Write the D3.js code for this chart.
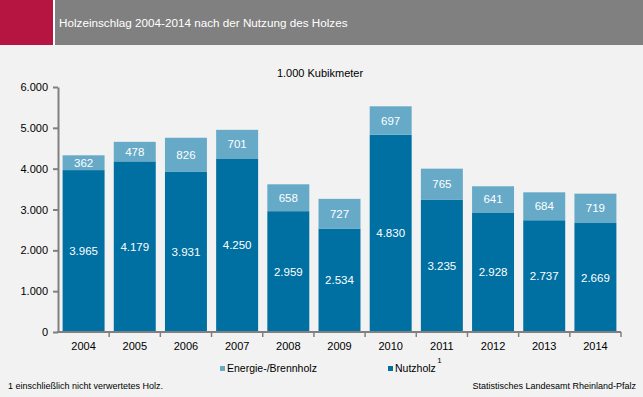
<!DOCTYPE html>
<html>
<head>
<meta charset="utf-8">
<script src="https://cdn.jsdelivr.net/npm/d3@7"></script>
<style>
  body { margin: 0; background: #f2f2f2; }
  svg { display: block; font-family: "Liberation Sans", Arial, sans-serif; }
</style>
</head>
<body>
<svg width="643" height="397"></svg>
<script>
const years = ["2004", "2005", "2006", "2007", "2008", "2009", "2010", "2011", "2012", "2013", "2014"];
const nutzholz = [3965, 4179, 3931, 4250, 2959, 2534, 4830, 3235, 2928, 2737, 2669];
const energieholz = [362, 478, 826, 701, 658, 727, 697, 765, 641, 684, 719];
const yTicks = [0, 1000, 2000, 3000, 4000, 5000, 6000];

const fmt = (v) => d3.format(",")(v).replace(/,/g, ".");

const svg = d3.select("svg");
svg.append("rect").attr("width", 643).attr("height", 397).attr("fill", "#f2f2f2");

// header
svg.append("rect").attr("x", 0).attr("y", 0).attr("width", 53).attr("height", 45).attr("fill", "#b71541");
svg.append("rect").attr("x", 53).attr("y", 0).attr("width", 2).attr("height", 45).attr("fill", "#ffffff");
svg.append("rect").attr("x", 55).attr("y", 0).attr("width", 588).attr("height", 45).attr("fill", "#808080");
svg.append("text").attr("x", 59).attr("y", 27).attr("fill", "#fff")
  .attr("font-size", 11.7).text("Holzeinschlag 2004-2014 nach der Nutzung des Holzes");

svg.append("text").attr("x", 320).attr("y", 77).attr("text-anchor", "middle")
  .attr("font-size", 11).attr("fill", "#000").text("1.000 Kubikmeter");

const x = d3.scaleBand().domain(years).range([58, 621]).paddingInner(0.18).paddingOuter(0.09);
const y = d3.scaleLinear().domain([0, 6000]).range([332, 87]);

const g = svg.append("g");

// bars
years.forEach((yr, i) => {
  const n = nutzholz[i], e = energieholz[i];
  g.append("rect").attr("x", x(yr)).attr("width", x.bandwidth())
    .attr("y", y(n)).attr("height", y(0) - y(n)).attr("fill", "#0070a2");
  g.append("rect").attr("x", x(yr)).attr("width", x.bandwidth())
    .attr("y", y(n + e)).attr("height", y(n) - y(n + e)).attr("fill", "#66aac8");
  g.append("text").attr("x", x(yr) + x.bandwidth() / 2).attr("y", (y(0) + y(n)) / 2 + 4)
    .attr("text-anchor", "middle").attr("font-size", 11.5).attr("fill", "#fff").text(fmt(n));
  g.append("text").attr("x", x(yr) + x.bandwidth() / 2).attr("y", (y(n) + y(n + e)) / 2 + 4)
    .attr("text-anchor", "middle").attr("font-size", 11.5).attr("fill", "#fff").text(fmt(e));
});

// y axis
const yAxis = svg.append("g").attr("transform", "translate(58,0)")
  .call(d3.axisLeft(y).tickValues(yTicks).tickSize(5).tickSizeOuter(0).tickFormat(fmt));
yAxis.select(".domain").attr("stroke", "#808080").attr("stroke-width", 2);
yAxis.selectAll(".tick line").attr("stroke", "#808080").attr("stroke-width", 2);
yAxis.selectAll(".tick text").attr("font-size", 11).attr("fill", "#000")
  .attr("font-family", "Liberation Sans, Arial, sans-serif").attr("x", -10);

// x axis
const xAxis = svg.append("g").attr("transform", "translate(0,332)")
  .call(d3.axisBottom(x).tickSize(0).tickSizeOuter(0));
xAxis.select(".domain").attr("stroke", "#808080").attr("stroke-width", 2)
  .attr("d", "M57,0H621");
xAxis.selectAll(".tick text").attr("font-size", 11).attr("fill", "#000")
  .attr("font-family", "Liberation Sans, Arial, sans-serif").attr("dy", "1.35em");
// separators between categories
const step = x.step();
const seps = years.map((yr) => x(yr) - (step - x.bandwidth()) / 2).slice(1).concat([621]);
xAxis.selectAll("line.sep").data(seps).enter().append("line")
  .attr("x1", (d) => d).attr("x2", (d) => d).attr("y1", 0).attr("y2", 5)
  .attr("stroke", "#808080").attr("stroke-width", 1.5);

// legend
const legend = [
  { label: "Energie-/Brennholz", color: "#66aac8", x: 220 },
  { label: "Nutzholz", color: "#0070a2", x: 388 },
];
let lastEnd = 0;
legend.forEach((d) => {
  svg.append("rect").attr("x", d.x).attr("y", 366).attr("width", 5).attr("height", 5).attr("fill", d.color);
  const t = svg.append("text").attr("x", d.x + 7).attr("y", 372).attr("font-size", 10.5).attr("fill", "#000").text(d.label);
  lastEnd = d.x + 7 + t.node().getComputedTextLength();
});
svg.append("text").attr("x", lastEnd + 1.5).attr("y", 363).attr("font-size", 8).attr("fill", "#000").text("1");

// footer
svg.append("text").attr("x", 8).attr("y", 389).attr("font-size", 9).attr("fill", "#000")
  .text("1 einschließlich nicht verwertetes Holz.");
svg.append("text").attr("x", 636).attr("y", 389).attr("text-anchor", "end").attr("font-size", 9).attr("fill", "#000")
  .text("Statistisches Landesamt Rheinland-Pfalz");
</script>
</body>
</html>
